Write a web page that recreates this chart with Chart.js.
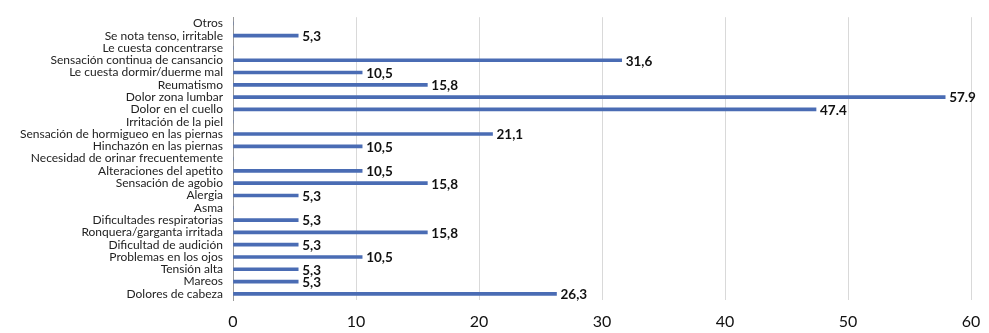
<!DOCTYPE html>
<html>
<head>
<meta charset="utf-8">
<script src="https://cdn.jsdelivr.net/npm/chart.js@4/dist/chart.umd.min.js"></script>
<style>
html,body{margin:0;padding:0;background:#fff;}
#wrap{width:989px;height:333px;position:relative;}
</style>
</head>
<body>
<div id="wrap"><canvas id="c" width="989" height="333"></canvas></div>
<script>
const categories = [
  "Otros",
  "Se nota tenso, irritable",
  "Le cuesta concentrarse",
  "Sensación continua de cansancio",
  "Le cuesta dormir/duerme mal",
  "Reumatismo",
  "Dolor zona lumbar",
  "Dolor en el cuello",
  "Irritación de la piel",
  "Sensación de hormigueo en las piernas",
  "Hinchazón en las piernas",
  "Necesidad de orinar frecuentemente",
  "Alteraciones del apetito",
  "Sensación de agobio",
  "Alergia",
  "Asma",
  "Dificultades respiratorias",
  "Ronquera/garganta irritada",
  "Dificultad de audición",
  "Problemas en los ojos",
  "Tensión alta",
  "Mareos",
  "Dolores de cabeza"
];
const values = [0, 5.3, 0, 31.6, 10.5, 15.8, 57.9, 47.4, 0, 21.1, 10.5, 0, 10.5, 15.8, 5.3, 0, 5.3, 15.8, 5.3, 10.5, 5.3, 5.3, 26.3];
const valueLabels = ["", "5,3", "", "31,6", "10,5", "15,8", "57.9", "47.4", "", "21,1", "10,5", "", "10,5", "15,8", "5,3", "", "5,3", "15,8", "5,3", "10,5", "5,3", "5,3", "26,3"];
const xTicks = [0, 10, 20, 30, 40, 50, 60];

const labelPlugin = {
  id: 'valueLabels',
  afterDatasetsDraw(chart) {
    const ctx = chart.ctx;
    const meta = chart.getDatasetMeta(0);
    ctx.save();
    ctx.font = 'bold 13.5px Lato, "DejaVu Sans", sans-serif';
    ctx.fillStyle = '#111';
    ctx.textBaseline = 'middle';
    ctx.textAlign = 'left';
    meta.data.forEach((bar, i) => {
      if (!valueLabels[i]) return;
      ctx.fillText(valueLabels[i], bar.x + 4, bar.y + 1);
    });
    ctx.restore();
  }
};

new Chart(document.getElementById('c'), {
  type: 'bar',
  data: {
    labels: categories,
    datasets: [{
      data: values,
      backgroundColor: '#4a6cb4',
      borderWidth: 0,
      barThickness: 3
    }]
  },
  options: {
    indexAxis: 'y',
    responsive: false,
    animation: false,
    layout: { padding: { top: 10, right: 18, left: 0, bottom: 0 } },
    plugins: { legend: { display: false }, tooltip: { enabled: false } },
    scales: {
      x: {
        min: 0, max: 60,
        afterBuildTicks(scale) { scale.ticks = xTicks.map(v => ({ value: v })); },
        afterFit(scale) { scale.height = 33; scale.paddingRight = 0; },
        ticks: {
          padding: 12,
          color: '#111',
          font: { family: 'Lato, "DejaVu Sans", sans-serif', size: 16 }
        },
        grid: { color: '#d9d9d9', drawTicks: false, lineWidth: 1 },
        border: { display: false }
      },
      y: {
        afterFit(scale) { scale.width = 233; },
        ticks: {
          padding: 10,
          autoSkip: false,
          color: '#222',
          font: { family: 'Lato, "DejaVu Sans", sans-serif', size: 12 }
        },
        grid: { display: false, drawTicks: false },
        border: { display: true, color: '#9a9a9a', width: 1 }
      }
    }
  },
  plugins: [labelPlugin]
});
</script>
</body>
</html>
